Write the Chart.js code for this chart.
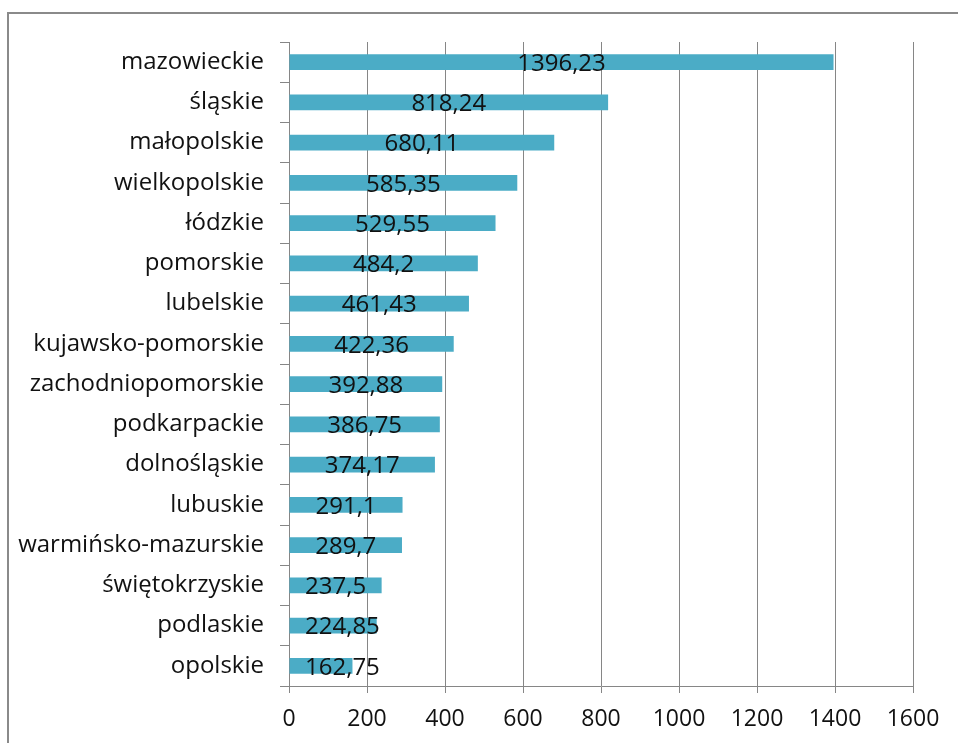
<!DOCTYPE html>
<html>
<head>
<meta charset="utf-8">
<script src="https://cdn.jsdelivr.net/npm/chart.js@4"></script>
<style>
  html, body { margin: 0; padding: 0; background: #fff; }
  #wrap { width: 958px; height: 743px; position: relative; }
</style>
</head>
<body>
<div id="wrap"><canvas id="chart" width="958" height="743"></canvas></div>
<script>
const regions = ['mazowieckie', 'śląskie', 'małopolskie', 'wielkopolskie', 'łódzkie', 'pomorskie',
  'lubelskie', 'kujawsko-pomorskie', 'zachodniopomorskie', 'podkarpackie', 'dolnośląskie',
  'lubuskie', 'warmińsko-mazurskie', 'świętokrzyskie', 'podlaskie', 'opolskie'];
const values = [1396.23, 818.24, 680.11, 585.35, 529.55, 484.2, 461.43, 422.36, 392.88,
  386.75, 374.17, 291.1, 289.7, 237.5, 224.85, 162.75];
const axisMin = 0, axisMax = 1600, axisStep = 200;

const FONT = 'Open Sans';
const gridColor = '#868686';

// outer frame like the spreadsheet chart border
const framePlugin = {
    id: 'frame',
    beforeDraw(chart) {
        const ctx = chart.ctx;
        ctx.save();
        ctx.strokeStyle = '#8a8a8a';
        ctx.lineWidth = 2;
        ctx.strokeRect(8, 13, chart.width + 20, chart.height + 20);
        ctx.restore();
    }
};

// value labels centred on the bars
const labelPlugin = {
    id: 'barLabels',
    afterDatasetsDraw(chart) {
        const ctx = chart.ctx;
        const meta = chart.getDatasetMeta(0);
        ctx.save();
        ctx.font = '24px "' + FONT + '"';
        ctx.fillStyle = '#111';
        ctx.textAlign = 'center';
        ctx.textBaseline = 'middle';
        meta.data.forEach((bar, i) => {
            const txt = String(values[i]).replace('.', ',');
            const w = ctx.measureText(txt).width;
            let x = (bar.base + bar.x) / 2;
            x = Math.max(x, chart.chartArea.left + 16 + w / 2);
            ctx.fillText(txt, x, bar.y + 2);
        });
        ctx.restore();
    }
};

new Chart(document.getElementById('chart'), {
    type: 'bar',
    data: {
        labels: regions,
        datasets: [{
            data: values,
            backgroundColor: '#4BACC6',
            barPercentage: 0.39,
            categoryPercentage: 1
        }]
    },
    options: {
        indexAxis: 'y',
        responsive: false,
        animation: false,
        layout: { padding: { top: 42, right: 45, left: 0, bottom: 0 } },
        plugins: { legend: { display: false }, tooltip: { enabled: false } },
        scales: {
            x: {
                min: axisMin,
                max: axisMax,
                ticks: {
                    stepSize: axisStep, padding: 13, color: '#111',
                    font: { family: FONT, size: 23 },
                    callback: v => String(v)
                },
                grid: { color: gridColor, tickLength: 7 },
                border: { color: gridColor },
                afterFit(scale) { scale.height = 743 - 686; }
            },
            y: {
                ticks: { padding: 16, color: '#111', font: { family: FONT, size: 24 } },
                grid: { offset: true, drawOnChartArea: false, color: gridColor, tickLength: 9 },
                border: { color: gridColor },
                afterFit(scale) { scale.width = 289; }
            }
        }
    },
    plugins: [framePlugin, labelPlugin]
});
</script>
</body>
</html>
